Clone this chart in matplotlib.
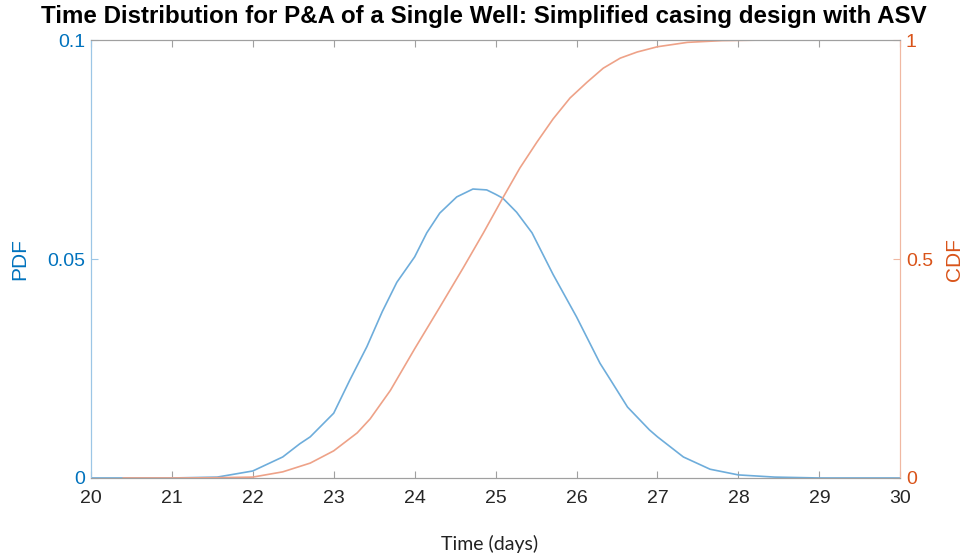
import numpy as np
import matplotlib
matplotlib.use('Agg')
import matplotlib.pyplot as plt

# values
days_pdf = [20.0, 21.0, 21.56, 22.0, 22.37, 22.58, 22.71, 23.0, 23.2, 23.41, 23.6, 23.78, 24.0, 24.15,
            24.31, 24.52, 24.72, 24.89, 25.0, 25.09, 25.26, 25.45, 25.71, 26.0, 26.29, 26.42, 26.63,
            26.9, 27.0, 27.32, 27.65, 28.0, 28.45, 29.0, 30.0]
pdf = [0.0, 0.0, 0.0002, 0.0016, 0.0048, 0.0078, 0.0094, 0.0148, 0.0224, 0.0300, 0.0380, 0.0447,
       0.0505, 0.0560, 0.0605, 0.0642, 0.0660, 0.0658, 0.0648, 0.0639, 0.0607, 0.0560, 0.0465,
       0.0368, 0.0262, 0.0224, 0.0162, 0.0110, 0.0094, 0.0048, 0.0020, 0.0007, 0.0002, 0.0, 0.0]

days_cdf = [20.4, 21.0, 21.5, 22.0, 22.37, 22.71, 23.0, 23.29, 23.45, 23.7, 24.0, 24.31, 24.6, 24.85,
            25.09, 25.3, 25.51, 25.71, 25.92, 26.13, 26.33, 26.54, 26.75, 27.0, 27.37, 27.8, 28.2, 30.0]
cdf = [0.0, 0.0, 0.0005, 0.002, 0.014, 0.034, 0.062, 0.103, 0.135, 0.20, 0.295, 0.39, 0.48, 0.56,
       0.64, 0.708, 0.767, 0.82, 0.868, 0.904, 0.936, 0.959, 0.973, 0.985, 0.995, 0.999, 1.0, 1.0]

x_ticks = list(range(20, 31))
pdf_ticks = [0, 0.05, 0.1]
pdf_tick_labels = ['0', '0.05', '0.1']
cdf_ticks = [0, 0.5, 1]
cdf_tick_labels = ['0', '0.5', '1']

title = 'Time Distribution for P&A of a Single Well: Simplified casing design with ASV'

blue = '#0072BD'
orange = '#D95319'
plt.rcParams['font.family'] = ['Liberation Sans', 'DejaVu Sans']

fig = plt.figure(figsize=(9.67, 5.58), dpi=100)
ax = fig.add_axes([0.094, 0.1434, 0.837, 0.7846])
ax2 = ax.twinx()

ax.plot(days_pdf, pdf, color='#6eaddb', lw=1.2)
ax2.plot(days_cdf, cdf, color='#eea288', lw=1.2)

ax.set_xlim(20, 30)
ax.set_ylim(0, 0.1)
ax2.set_ylim(0, 1)

ax.set_xticks(x_ticks)
ax.set_xticklabels([str(t) for t in x_ticks], fontsize=14, color='#262626')
ax.set_yticks(pdf_ticks)
ax.set_yticklabels(pdf_tick_labels, fontsize=14, color=blue)
ax2.set_yticks(cdf_ticks)
ax2.set_yticklabels(cdf_tick_labels, fontsize=14, color=orange)

ax.tick_params(axis='x', direction='in', length=5, color='#a0a0a0', top=True, pad=9)
ax.tick_params(axis='y', direction='in', length=5, color='#9cc6e6', pad=4)
ax2.tick_params(axis='y', direction='in', length=5, color='#f0b8a2', pad=4)

for a in (ax, ax2):
    a.spines['top'].set_color('#a0a0a0')
    a.spines['bottom'].set_color('#a0a0a0')
    a.spines['left'].set_color('#9cc6e6')
    a.spines['right'].set_color('#f0b8a2')

ax.set_ylabel('PDF', fontsize=15, color=blue, labelpad=13)
ax2.set_ylabel('CDF', fontsize=15, color=orange, labelpad=9)

fig.text(0.5, 0.970, title, ha='center', va='center', fontsize=17.4, fontweight='bold')
fig.text(0.506, 0.025, 'Time (days)', ha='center', va='center', fontsize=14,
         family=['Lato', 'DejaVu Sans'], color='#222222')

fig.savefig('out.png', dpi=100)
